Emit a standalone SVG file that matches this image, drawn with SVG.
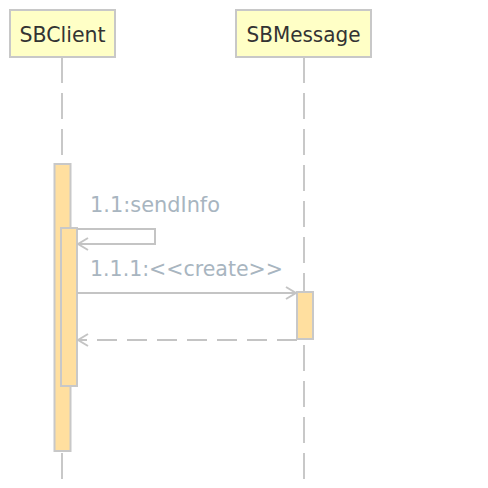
<svg xmlns="http://www.w3.org/2000/svg" width="488" height="488" viewBox="0 0 488 488">
<defs>
<style>
.head{fill:#ffffc6;stroke:#c8c8c8;stroke-width:2}
.htxt{font-family:"DejaVu Sans",sans-serif;font-size:21px;fill:#333333;text-anchor:middle}
.life{stroke:#c8c8c8;stroke-width:2;stroke-dasharray:26 10;fill:none}
.act{fill:#ffdf9f;stroke:#c8c8c8;stroke-width:2}
.msg{stroke:#c4c4c4;stroke-width:2;fill:none}
.ret{stroke:#c4c4c4;stroke-width:2;fill:none;stroke-dasharray:20 10}
.lbl{font-family:"DejaVu Sans",sans-serif;font-size:21px;fill:#a8b5c0}
</style>
<marker id="open" viewBox="0 0 12 14" refX="11" refY="7" markerWidth="12" markerHeight="14" markerUnits="userSpaceOnUse" orient="auto">
<path d="M1,1 L11,7 L1,13" fill="none" stroke="#c4c4c4" stroke-width="2"/>
</marker>
</defs>
<g id="SBClient">
<line class="life" x1="62" y1="57" x2="62" y2="480"/>
<rect class="head" x="10" y="10" width="105" height="47"/>
<text class="htxt" x="62.5" y="42" textLength="86" lengthAdjust="spacingAndGlyphs">SBClient</text>
</g>
<g id="SBMessage">
<line class="life" x1="304" y1="57" x2="304" y2="480"/>
<rect class="head" x="236" y="10" width="135" height="47"/>
<text class="htxt" x="303.5" y="42" textLength="114" lengthAdjust="spacingAndGlyphs">SBMessage</text>
</g>
<g id="activations">
<rect class="act" x="54.5" y="164" width="16" height="287"/>
<rect class="act" x="61" y="228" width="16" height="158"/>
<rect class="act" x="297" y="292" width="16" height="47"/>
</g>
<g id="connectors">
<polyline class="msg" points="77,229 155,229 155,244 78,244" marker-end="url(#open)"/>
<text class="lbl" x="90" y="212" textLength="130" lengthAdjust="spacingAndGlyphs">1.1:sendInfo</text>
<line class="msg" x1="77" y1="293" x2="296" y2="293" marker-end="url(#open)"/>
<text class="lbl" x="90" y="276" textLength="193" lengthAdjust="spacingAndGlyphs">1.1.1:&lt;&lt;create&gt;&gt;</text>
<line class="ret" x1="297" y1="340" x2="78" y2="340" marker-end="url(#open)"/>
</g>
</svg>
